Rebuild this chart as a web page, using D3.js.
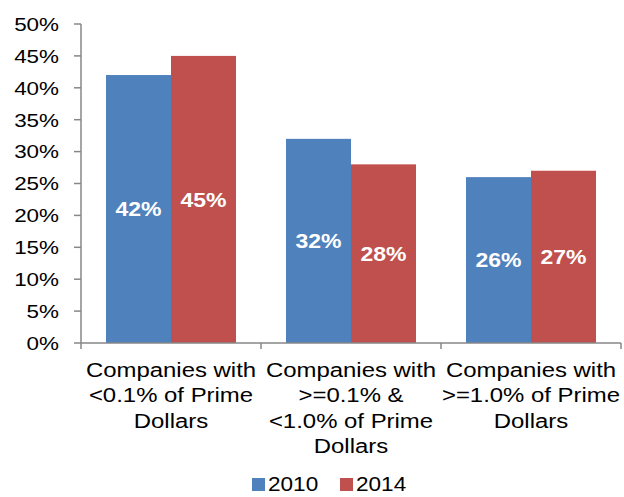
<!DOCTYPE html>
<html>
<head>
<meta charset="utf-8">
<script src="https://cdn.jsdelivr.net/npm/d3@7"></script>
<style>
  body { margin: 0; background: #fff; }
  svg { display: block; font-family: "Liberation Sans", Arial, sans-serif; }
</style>
</head>
<body>
<svg id="chart" width="624" height="497"></svg>
<script>
  var categories = [
    ["Companies with", "<0.1% of Prime", "Dollars"],
    ["Companies with", ">=0.1% &", "<1.0% of Prime", "Dollars"],
    ["Companies with", ">=1.0% of Prime", "Dollars"]
  ];
  var seriesNames = ["2010", "2014"];
  var values2010 = [0.42, 0.32, 0.26];
  var values2014 = [0.45, 0.28, 0.27];
  var yTicks = [0, 0.05, 0.10, 0.15, 0.20, 0.25, 0.30, 0.35, 0.40, 0.45, 0.50];
  var colors = ["#4F81BD", "#C0504D"];

  var svg = d3.select("#chart");
  var plotLeft = 81, plotRight = 621, plotTop = 24, plotBottom = 343;
  var axisColor = "#878787";

  var x0 = d3.scaleBand().domain(d3.range(categories.length)).range([plotLeft, plotRight]).padding(0);
  var x1 = d3.scaleBand().domain(seriesNames).range([0, x0.bandwidth()])
    .paddingInner(0).paddingOuter(0.3846);
  var y = d3.scaleLinear().domain([0, 0.5]).range([plotBottom, plotTop]);
  var fmt = d3.format(".0%");

  var data = categories.map(function (c, i) {
    return { i: i, vals: [values2010[i], values2014[i]] };
  });

  // bars
  var groups = svg.selectAll(".grp").data(data).enter().append("g")
    .attr("class", "grp")
    .attr("transform", function (d) { return "translate(" + x0(d.i) + ",0)"; });

  groups.selectAll("rect").data(function (d) {
    return d.vals.map(function (v, k) { return { k: k, v: v }; });
  }).enter().append("rect")
    .attr("x", function (d) { return x1(seriesNames[d.k]); })
    .attr("y", function (d) { return y(d.v); })
    .attr("width", x1.bandwidth())
    .attr("height", function (d) { return plotBottom - y(d.v); })
    .attr("fill", function (d) { return colors[d.k]; });

  groups.selectAll(".lbl").data(function (d) {
    return d.vals.map(function (v, k) { return { k: k, v: v }; });
  }).enter().append("text")
    .attr("class", "lbl")
    .attr("transform", function (d) {
      return "translate(" + (x1(seriesNames[d.k]) + x1.bandwidth() / 2) + "," + ((y(d.v) + plotBottom) / 2) + ") scale(1.15,1)";
    })
    .attr("text-anchor", "middle")
    .attr("dy", "0.36em")
    .attr("fill", "#fff")
    .attr("font-weight", "bold")
    .attr("font-size", 20)
    .text(function (d) { return fmt(d.v); });

  // y axis
  var yAxis = svg.append("g").attr("class", "y-axis");
  yAxis.append("line")
    .attr("x1", plotLeft).attr("x2", plotLeft).attr("y1", plotTop).attr("y2", plotBottom)
    .attr("stroke", axisColor).attr("stroke-width", 1.5);
  yAxis.selectAll(".tick").data(yTicks).enter().append("line")
    .attr("x1", plotLeft - 7).attr("x2", plotLeft)
    .attr("y1", function (d) { return y(d); }).attr("y2", function (d) { return y(d); })
    .attr("stroke", axisColor).attr("stroke-width", 1.5);
  yAxis.selectAll(".tl").data(yTicks).enter().append("text")
    .attr("transform", function (d) { return "translate(59," + y(d) + ") scale(1.18,1)"; })
    .attr("text-anchor", "end")
    .attr("dy", "0.36em")
    .attr("font-size", 19)
    .attr("fill", "#000")
    .text(function (d) { return fmt(d); });

  // x axis
  var xAxis = svg.append("g").attr("class", "x-axis");
  xAxis.append("line")
    .attr("x1", plotLeft).attr("x2", plotRight).attr("y1", plotBottom).attr("y2", plotBottom)
    .attr("stroke", axisColor).attr("stroke-width", 1.5);
  var xTicks = d3.range(categories.length + 1).map(function (i) { return plotLeft + i * x0.step(); });
  xAxis.selectAll(".xt").data(xTicks).enter().append("line")
    .attr("x1", function (d) { return d; }).attr("x2", function (d) { return d; })
    .attr("y1", plotBottom).attr("y2", plotBottom + 6)
    .attr("stroke", axisColor).attr("stroke-width", 1.5);

  xAxis.selectAll(".cat").data(data).enter().append("text")
    .attr("class", "cat")
    .attr("transform", function (d) { return "translate(" + (x0(d.i) + x0.bandwidth() / 2) + ",377) scale(1.14,1)"; })
    .attr("text-anchor", "middle")
    .attr("font-size", 21)
    .attr("fill", "#000")
    .selectAll("tspan").data(function (d) { return categories[d.i]; }).enter().append("tspan")
    .attr("x", 0)
    .attr("y", function (d, j) { return j * 25.5; })
    .text(function (d) { return d; });

  // legend
  var legendX = [252, 340];
  var legend = svg.selectAll(".leg").data(seriesNames).enter().append("g")
    .attr("class", "leg")
    .attr("transform", function (d, i) { return "translate(" + legendX[i] + ",478)"; });
  legend.append("rect")
    .attr("width", 13).attr("height", 13)
    .attr("fill", function (d, i) { return colors[i]; });
  legend.append("text")
    .attr("transform", "translate(16,13) scale(1.13,1)")
    .attr("font-size", 20)
    .attr("fill", "#000")
    .text(function (d) { return d; });
</script>
</body>
</html>
